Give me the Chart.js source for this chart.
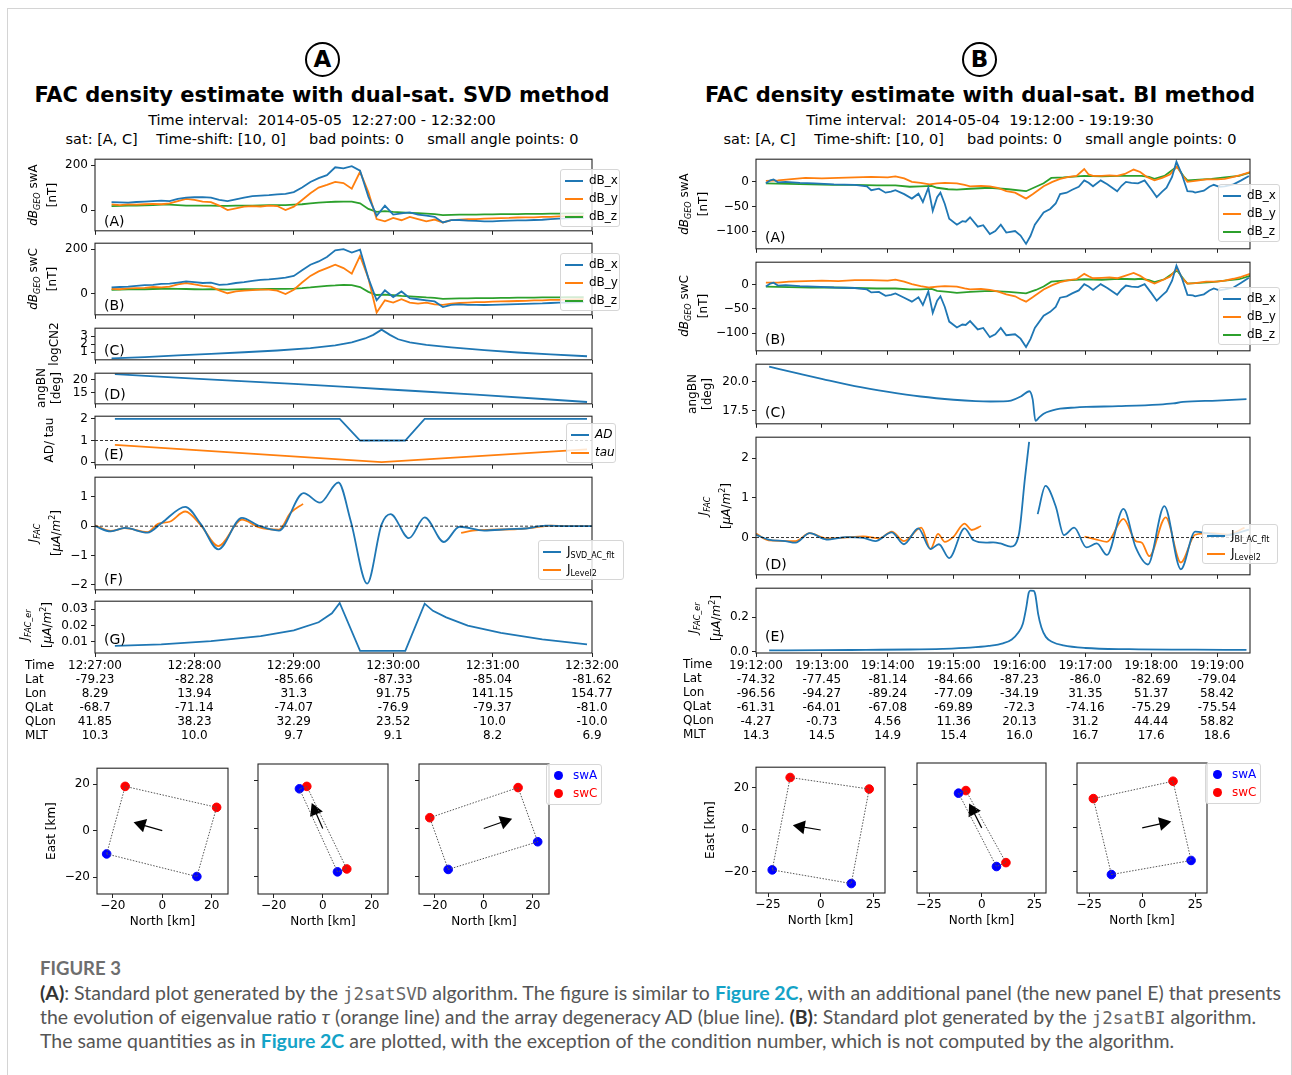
<!DOCTYPE html>
<html>
<head>
<meta charset="utf-8">
<script src="https://cdn.jsdelivr.net/npm/chart.js@4.4.1/dist/chart.umd.min.js"></script>
<style>
  html, body { margin: 0; padding: 0; background: #fff; }
  body { position: relative; width: 1292px; height: 1075px; overflow: hidden; font-family: "DejaVu Sans", sans-serif; color: #000; }
  canvas { position: absolute; }
  .abs { position: absolute; white-space: nowrap; }
  .frame { position: absolute; left: 7px; top: 8px; width: 1283px; height: 1080px; border: 1px solid #d4d4d4; }
  .circ { position: absolute; width: 31px; height: 31px; border: 2.5px solid #000; border-radius: 50%; font: bold 23px "DejaVu Sans"; text-align: center; line-height: 31px; }
  .title { font: bold 21px "DejaVu Sans"; transform: translateX(-50%); }
  .sub { font-size: 14.5px; transform: translateX(-50%); }
  .yl { position: absolute; transform: translate(-50%, -50%) rotate(-90deg); white-space: nowrap; font-size: 12px; line-height: 15px; text-align: center; }
  .yl sub { font-size: 8px; }
  .pl { font-size: 14px; }
  .lg { position: absolute; background: rgba(255,255,255,0.8); border: 1px solid #d6d6d6; border-radius: 3px; font-size: 12px; padding: 1px 4px; }
  .lg div { height: 18px; line-height: 18px; white-space: nowrap; }
  .lg sub { font-size: 8px; }
  .sw { display: inline-block; width: 18px; height: 2px; vertical-align: middle; margin-right: 6px; }
  .dot { display: inline-block; width: 9px; height: 9px; border-radius: 50%; vertical-align: middle; margin: 0 10px 0 3px; }
  .rows { font-size: 12px; line-height: 14px; }
  .cap { position: absolute; white-space: nowrap; font-family: Lato, "Open Sans", sans-serif; color: #555; font-size: 19.5px; }
  .cap b { color: #333; }
  .cap .lk { color: #14a3c7; font-weight: bold; }
  .cap code { font-family: "DejaVu Sans Mono", monospace; font-size: 17.5px; color: #666; }
</style>
</head>
<body>
<div class="frame"></div>
<script>
// ---------- panel A : SVD method, seconds after 12:27:00 ----------
const tA = [10,15,20,25,30,35,40,45,50,55,60,65,70,75,80,85,90,95,100,105,110,115,120,125,130,135,140,145,150,155,160,165,170,175,180,185,190,195,200,205,210,215,220,225,230,235,240,245,250,255,260,265,270,275,280,285,290,295];
const dbxSwA = [35,34,33,36,38,40,42,40,50,55,57,58,55,45,40,48,55,62,64,66,70,72,80,100,125,142,155,190,185,195,175,60,-25,20,-20,-15,-10,-20,-25,-30,-55,-45,-44,-47,-48,-50,-50,-48,-47,-46,-46,-44,-43,-40,-38,-37,-35,-34];
const dbySwA = [25,22,25,24,26,28,26,30,40,50,45,38,35,20,0,8,15,18,16,20,18,0,15,45,75,100,112,125,120,95,170,80,-40,-50,-35,-45,-30,-40,-50,-42,-55,-45,-42,-40,-40,-38,-37,-36,-35,-33,-32,-32,-30,-30,-28,-27,-27,-26];
const dbzSwA = [18,19,20,20,21,22,24,24,22,20,20,20,20,19,19,20,20,20,21,22,22,22,24,26,30,33,35,37,38,38,30,5,-8,-5,-8,-10,-12,-14,-16,-18,-22,-21,-20,-20,-20,-19,-19,-18,-18,-18,-17,-17,-17,-16,-16,-15,-15,-15];
const dbxSwC = [28,30,32,35,38,40,44,45,50,55,52,48,50,40,42,48,52,58,62,64,68,72,80,105,130,145,165,195,200,185,198,70,-30,15,-15,10,-20,-25,-30,-35,-60,-50,-48,-50,-50,-51,-50,-49,-48,-47,-46,-45,-44,-42,-40,-40,-39,-38];
const dbySwC = [22,20,24,25,26,30,28,32,42,48,42,35,32,15,2,10,14,16,18,18,14,-2,18,50,80,100,115,130,115,90,170,70,-85,-30,-40,-25,-40,-45,-40,-48,-50,-45,-42,-40,-38,-38,-36,-35,-34,-33,-32,-30,-30,-28,-28,-27,-26,-25];
const dbzSwC = [17,18,19,20,20,21,22,23,22,21,20,19,20,19,18,19,20,20,20,21,22,22,23,25,28,32,35,37,40,38,30,8,-6,-4,-7,-10,-12,-14,-17,-19,-23,-22,-21,-21,-20,-20,-20,-19,-19,-18,-18,-18,-17,-17,-17,-16,-16,-16];
const cnT = [10,30,50,70,90,110,130,145,155,163,168,173,178,183,190,200,215,235,255,275,297];
const cnV = [0.22,0.38,0.58,0.78,0.98,1.2,1.5,1.85,2.2,2.7,3.15,3.8,3.15,2.6,2.2,1.9,1.6,1.25,0.95,0.72,0.48];
const angAT = [12,60,120,175,230,297];
const angAV = [22.2,20.5,18.4,16.3,14.2,11.3];
const adT = [12,147.7,160,187.3,199,297];
const adV = [2,2,1,1,2,2];
const tauT = [12,173,297];
const tauV = [0.8,0.0,0.59];
const jSvdT = [0,9.5,18,31.7,40.4,54.5,64,74.4,88.7,98.6,111,125.9,135.8,146.9,154.4,164.3,173,178.4,189.5,199,210.6,220,234.9,250,260,272,285,300];
const jSvdV = [0.0,-0.18,-0.06,-0.22,0.12,0.66,0.06,-0.79,0.28,0.02,-0.15,1.13,0.8,1.49,0.17,-1.96,0.06,0.41,-0.41,0.3,-0.54,-0.02,-0.15,-0.1,-0.08,0.02,0.0,0.0];
const jL2AT = [0,9.5,18,31.7,38,45,54.5,64,74.4,88.7,98.6,111,118,125.6,170,221,228,240,255,265,275,290,300];
const jL2AV = [0.03,-0.16,-0.07,-0.2,0.08,0.15,0.5,0.02,-0.68,0.22,-0.03,-0.12,0.45,0.76,null,-0.23,-0.15,-0.12,-0.1,-0.05,0.02,0.0,0.0];
const erAT = [12,40,70,100,120,135,143,147.7,160,187.3,199,204,212,225,245,270,297];
const erAV = [0.0075,0.0085,0.0105,0.0135,0.017,0.022,0.0275,0.0338,0.0045,0.0045,0.0334,0.029,0.025,0.02,0.0155,0.0115,0.0085];
const ticksA = [0,60,120,180,240,300];
const timeA = ['12:27:00','12:28:00','12:29:00','12:30:00','12:31:00','12:32:00'];
const latA = ['-79.23','-82.28','-85.66','-87.33','-85.04','-81.62'];
const lonA = ['8.29','13.94','31.3','91.75','141.15','154.77'];
const qlatA = ['-68.7','-71.14','-74.07','-76.9','-79.37','-81.0'];
const qlonA = ['41.85','38.23','32.29','23.52','10.0','-10.0'];
const mltA = ['10.3','10.0','9.7','9.1','8.2','6.9'];

// ---------- panel B : BI method, seconds after 19:12:00 ----------
const bxAT = [9,13,16,20,27,40,53,71,90,101,105,112,118,123,127,135,142,148,152,157,161,165,168,172,176,183,188,191,195,202,207,213,218,223,228,236,241,246,250,254,262,268,273,277,283,288,294,299,303,307,314,320,329,333,337,342,348,354,360,365,370,374,379,383,388,393,398,400,408,413,417,422,427,435,442,449];
const bxAV = [-3,3,5,-1,0,-2,-3,-5,-6,-9,-17,-14,-22,-20,-17,-25,-34,-24,-41,-12,-59,-31,-22,-45,-75,-87,-80,-81,-72,-91,-88,-106,-100,-87,-103,-100,-109,-126,-110,-87,-62,-55,-44,-25,-22,-16,-10,3,-2,-9,3,-5,-19,-8,0,-2,-3,3,-15,-31,-20,-12,10,41,15,-19,-20,-22,-18,-10,-6,-10,-9,-5,3,12];
const bxCV = [-4,2,4,-2,-1,-3,-4,-6,-7,-10,-16,-15,-23,-21,-18,-27,-35,-26,-42,-14,-58,-33,-24,-46,-76,-88,-82,-83,-75,-92,-89,-108,-102,-89,-104,-102,-111,-128,-112,-89,-64,-56,-46,-27,-24,-18,-12,1,-4,-11,1,-7,-21,-10,-2,-4,-5,1,-17,-33,-22,-14,8,39,13,-21,-22,-24,-20,-12,-8,-12,-10,-6,4,14];
const byBT = [9,20,30,45,60,75,90,105,120,127,135,142,150,158,165,172,183,190,195,205,213,220,228,236,241,246,252,262,270,277,285,292,299,303,307,315,322,329,336,344,350,356,363,370,377,383.5,388,393,400,410,420,427,435,442,450];
const byAV = [2,3,5,8,7,8,9,10,9,11,7,0,-2,-5,-3,-2,-3,-6,-9,-8,-9,-12,-19,-22,-28,-34,-25,-9,0,6,10,12,26,15,12,12,13,12,16,25,20,10,3,8,15,31,15,0,2,5,5,6,10,14,20];
const byCV = [4,4,6,7,8,7,9,9,8,10,6,1,-3,-6,-4,-3,-4,-8,-10,-9,-11,-14,-20,-24,-30,-35,-26,-10,-1,5,9,11,22,17,13,14,15,13,18,24,18,9,2,9,16,33,14,2,3,6,6,8,12,16,22];
const bzBT = [9,30,50,70,90,110,127,140,150,160,165,175,183,195,213,230,246,255,262,269,280,299,315,330,345,351,358,363,372,383.5,390,393,400,415,427,440,450];
const bzAV = [-3,-4,-5,-6,-6,-7,-7,-10,-9,-8,-12,-15,-16,-14,-12,-15,-19,-10,-3,8,9,12,11,12,12,12,10,6,12,31,10,3,4,6,9,12,19];
const bzCV = [-4,-5,-6,-6,-7,-8,-8,-10,-10,-9,-13,-15,-17,-15,-13,-15,-18,-11,-4,6,8,11,10,12,11,12,9,5,11,29,10,2,3,5,8,11,18];
const angBT = [12,40,60.8,90,120.5,150,180,200,213.7,225,232.3,241.6,249,252,254.6,258,262,270,277,290,300.9,330,366.6,380,389,420,446.8];
const angBV = [21.27,20.65,20.2,19.6,19.1,18.7,18.42,18.3,18.27,18.28,18.35,18.72,19.15,18.47,16.6,16.9,17.22,17.5,17.65,17.75,17.8,17.87,18.0,18.1,18.23,18.35,18.47];
const jBiT = [0,11.5,26.6,36,49,64,82.6,97.6,108.7,123.6,134.8,147.9,159,166.6,176,190,198.3,209.5,216,222.6,232,239.4,245,248.8,252,256.6,263.7,273,280.5,289.8,301,310.4,319.7,334.7,345.9,357,372,387,400,411,426,449];
const jBiV = [0.07,-0.05,-0.09,-0.13,0.11,-0.05,0.01,-0.01,-0.09,0.13,-0.17,0.23,-0.29,-0.17,-0.52,0.23,-0.07,-0.13,-0.12,-0.15,-0.23,0.07,1.5,2.41,null,0.59,1.3,0.79,0.06,0.25,-0.25,-0.15,-0.44,0.72,-0.25,-0.68,0.79,-0.8,0.15,0.11,0.05,0.2];
const jL2BT = [0,11.5,36,49,64,80,97.6,112.5,123.6,134.8,150.5,159,165.8,172,179.5,190,196.4,205,250,299.3,310.4,319.7,334.7,345.9,351.5,358.3,373.2,387,400,415,430,445];
const jL2BV = [0.1,-0.07,-0.09,0.11,-0.02,0.0,0.03,-0.02,0.15,-0.09,0.25,-0.29,0.09,-0.11,0.01,0.35,0.19,0.29,null,0.02,-0.05,-0.11,0.47,-0.09,-0.13,-0.47,0.51,-0.63,0.07,0.11,0.07,0.25];
const erBT = [12,60,100,140,170,195,212,225,233,239,243,246,248.5,250,253,254.5,257,260,264,270,280,300,340,400,446.8];
const erBV = [0.006,0.007,0.009,0.011,0.015,0.022,0.032,0.047,0.07,0.11,0.16,0.25,0.345,0.356,0.354,0.33,0.22,0.14,0.085,0.055,0.035,0.02,0.013,0.01,0.009];
const ticksB = [0,60,120,180,240,300,360,420];
const timeB = ['19:12:00','19:13:00','19:14:00','19:15:00','19:16:00','19:17:00','19:18:00','19:19:00'];
const latB = ['-74.32','-77.45','-81.14','-84.66','-87.23','-86.0','-82.69','-79.04'];
const lonB = ['-96.56','-94.27','-89.24','-77.09','-34.19','31.35','51.37','58.42'];
const qlatB = ['-61.31','-64.01','-67.08','-69.89','-72.3','-74.16','-75.29','-75.54'];
const qlonB = ['-4.27','-0.73','4.56','11.36','20.13','31.2','44.44','58.82'];
const mltB = ['14.3','14.5','14.9','15.4','16.0','16.7','17.6','18.6'];

// ---------- satellite constellation maps (North, East in km) ----------
const svdSwAN = [[-22.5,14],[-9.5,6],[-14.5,22]];
const svdSwAE = [[-10,-19.7],[16.5,-18],[-17,-5.5]];
const svdSwCN = [[-15,22],[-6.5,9.8],[-22,14]];
const svdSwCE = [[19,10],[17.5,-16.8],[4.5,17]];
const svdArrN = [-8.5,-3.2,8.5];
const svdArrE = [2.6,7.5,3.0];
const biSwAN = [[-23,14.5],[-11,7],[-14.5,23]];
const biSwAE = [[-19,-25.5],[16,-17.8],[-21.5,-15]];
const biSwCN = [[-14.5,23],[-7.5,11.5],[-23,14.5]];
const biSwCE = [[25,19.5],[17.2,-16],[13.5,21.5]];
const biArrN = [-9.5,-4.2,10];
const biArrE = [1.6,8,2.2];

const BLUE = '#1f77b4', ORANGE = '#ff7f0e', GREEN = '#2ca02c';

Chart.defaults.font.family = "'DejaVu Sans', sans-serif";
Chart.defaults.font.size = 12;
Chart.defaults.color = '#000';

// axes box like matplotlib spines
const framePlugin = {
  id: 'frame',
  afterDatasetsDraw(c) {
    const a = c.chartArea, ctx = c.ctx;
    ctx.save();
    ctx.strokeStyle = '#262626';
    ctx.lineWidth = 1.1;
    ctx.strokeRect(a.left, a.top, a.right - a.left, a.bottom - a.top);
    ctx.restore();
  }
};

function addCanvas(l, t, w, h) {
  const cv = document.createElement('canvas');
  cv.width = w; cv.height = h;
  cv.style.left = l + 'px'; cv.style.top = t + 'px';
  cv.style.width = w + 'px'; cv.style.height = h + 'px';
  document.body.appendChild(cv);
  return cv;
}

function addDiv(cls, l, t, html, css) {
  const d = document.createElement('div');
  d.className = cls;
  d.style.left = l + 'px'; d.style.top = t + 'px';
  if (css) d.style.cssText += css;
  d.innerHTML = html;
  document.body.appendChild(d);
  return d;
}

const pts = (xs, ys) => xs.map((x, i) => ({ x: x, y: ys[i] }));
const line = (xs, ys, color, more) => Object.assign({ data: pts(xs, ys), borderColor: color, borderWidth: 1.8, pointRadius: 0, fill: false, tension: 0 }, more || {});
const hline = (x0, x1, y) => ({ data: [{ x: x0, y: y }, { x: x1, y: y }], borderColor: '#000', borderWidth: 0.8, borderDash: [3, 2], pointRadius: 0 });
const mfmt = v => (v < 0 ? '\u2212' + Math.abs(v) : String(v));

function timePlot(box, xr, xTicks, yr, yTicks, yFmt, datasets, rows) {
  const padL = 62, padT = 6, padR = 36, padB = rows ? 96 : 6;
  const w = box[2] - box[0] + padL + padR, h = box[3] - box[1] + padT + padB;
  const cv = addCanvas(box[0] - padL, box[1] - padT, w, h);
  return new Chart(cv, {
    type: 'line',
    data: { datasets: datasets },
    options: {
      responsive: false, animation: false, devicePixelRatio: 1, events: [],
      layout: { autoPadding: false, padding: { left: 0, top: padT, right: padR, bottom: 0 } },
      plugins: { legend: { display: false }, tooltip: { enabled: false } },
      scales: {
        x: {
          type: 'linear', min: xr[0], max: xr[1],
          afterBuildTicks: s => { s.ticks = xTicks.map(v => ({ value: v })); },
          afterFit: s => { s.height = padB; },
          border: { display: false },
          grid: { drawOnChartArea: false, tickLength: 4, tickColor: '#222' },
          ticks: rows
            ? { autoSkip: false, maxRotation: 0, padding: 2, font: { size: 12, lineHeight: 1.17 }, callback: (v, i) => rows.map(r => r[i]) }
            : { display: false }
        },
        y: {
          min: yr[0], max: yr[1],
          afterBuildTicks: s => { s.ticks = yTicks.map(v => ({ value: v })); },
          afterFit: s => { s.width = padL; },
          border: { display: false },
          grid: { drawOnChartArea: false, tickLength: 4, tickColor: '#222' },
          ticks: { autoSkip: false, padding: 3, font: { size: 12 }, callback: yFmt }
        }
      }
    },
    plugins: [framePlugin]
  });
}

function mapPlot(box, xr, yr, xTicks, yTicks, first, aN, aE, cN, cE, arN, arE) {
  const padL = 52, padT = 6, padR = 6, padB = 36;
  const w = box[2] - box[0] + padL + padR, h = box[3] - box[1] + padT + padB;
  const cv = addCanvas(box[0] - padL, box[1] - padT, w, h);
  const ang = Math.atan2(arN, arE) * 180 / Math.PI;
  return new Chart(cv, {
    type: 'scatter',
    data: {
      datasets: [
        { data: pts([aN[0], aN[1], cN[1], cN[0], aN[0]], [aE[0], aE[1], cE[1], cE[0], aE[0]]), showLine: true, borderColor: '#555', borderWidth: 1, borderDash: [1.5, 1.5], pointRadius: 0 },
        { data: [{ x: 0, y: 0 }, { x: arN, y: arE }], showLine: true, borderColor: '#000', borderWidth: 1.2, backgroundColor: '#000', pointStyle: 'triangle', pointRadius: [0, 8], pointRotation: [0, ang], pointBorderWidth: 0 },
        { data: pts(aN, aE), backgroundColor: '#0000ff', borderColor: '#0000ff', pointRadius: 4.3 },
        { data: pts(cN, cE), backgroundColor: '#ff0000', borderColor: '#ff0000', pointRadius: 4.3 }
      ]
    },
    options: {
      responsive: false, animation: false, devicePixelRatio: 1, events: [],
      layout: { autoPadding: false, padding: { left: 0, top: padT, right: padR, bottom: 0 } },
      plugins: { legend: { display: false }, tooltip: { enabled: false } },
      scales: {
        x: {
          type: 'linear', min: xr[0], max: xr[1],
          afterBuildTicks: s => { s.ticks = xTicks.map(v => ({ value: v })); },
          afterFit: s => { s.height = padB; },
          border: { display: false },
          grid: { drawOnChartArea: false, tickLength: 4, tickColor: '#222' },
          ticks: { padding: 1, autoSkip: false, maxRotation: 0, callback: mfmt },
          title: { display: true, text: 'North [km]', padding: { top: 0, bottom: 1 }, font: { size: 12 } }
        },
        y: {
          min: yr[0], max: yr[1],
          afterBuildTicks: s => { s.ticks = yTicks.map(v => ({ value: v })); },
          afterFit: s => { s.width = padL; },
          border: { display: false },
          grid: { drawOnChartArea: false, tickLength: 4, tickColor: '#222' },
          ticks: { display: first, autoSkip: false, padding: 3, callback: mfmt },
          title: { display: first, text: 'East [km]', padding: { top: 0, bottom: 0 }, font: { size: 12 } }
        }
      }
    },
    plugins: [framePlugin]
  });
}

function legend(l, t, w, items) {
  const html = items.map(it => '<div><span class="sw" style="background:' + it[1] + '"></span>' + it[0] + '</div>').join('');
  addDiv('lg', l, t, html, 'width:' + w + 'px');
}
function dotLegend(l, t) {
  addDiv('lg', l, t, '<div style="color:#0000ff"><span class="dot" style="background:#0000ff"></span>swA</div><div style="color:#ff0000"><span class="dot" style="background:#ff0000"></span>swC</div>', 'width:46px;padding:1px 4px 2px 4px');
}

// ---------- headers ----------
addDiv('circ', 305, 42, 'A');
addDiv('circ', 962, 42, 'B');
addDiv('abs title', 322, 83, 'FAC density estimate with dual-sat. SVD method');
addDiv('abs title', 980, 83, 'FAC density estimate with dual-sat. BI method');
addDiv('abs sub', 322, 112, 'Time interval:&nbsp; 2014-05-05&nbsp; 12:27:00 - 12:32:00');
addDiv('abs sub', 322, 131, 'sat: [A, C]&nbsp;&nbsp;&nbsp; Time-shift: [10, 0]&nbsp;&nbsp;&nbsp;&nbsp; bad points: 0&nbsp;&nbsp;&nbsp;&nbsp; small angle points: 0');
addDiv('abs sub', 980, 112, 'Time interval:&nbsp; 2014-05-04&nbsp; 19:12:00 - 19:19:30');
addDiv('abs sub', 980, 131, 'sat: [A, C]&nbsp;&nbsp;&nbsp; Time-shift: [10, 0]&nbsp;&nbsp;&nbsp;&nbsp; bad points: 0&nbsp;&nbsp;&nbsp;&nbsp; small angle points: 0');

// ---------- panel A charts ----------
const xrA = [0, 300];
timePlot([95, 155, 592, 235], xrA, ticksA, [-92, 226], [0, 200], mfmt,
  [line(tA, dbxSwA, BLUE), line(tA, dbySwA, ORANGE), line(tA, dbzSwA, GREEN)]);
timePlot([95, 239, 592, 319], xrA, ticksA, [-95, 227], [0, 200], mfmt,
  [line(tA, dbxSwC, BLUE), line(tA, dbySwC, ORANGE), line(tA, dbzSwC, GREEN)]);
timePlot([95, 324, 592, 364], xrA, ticksA, [0.04, 3.98], [1, 2, 3], mfmt,
  [line(cnT, cnV, BLUE)]);
timePlot([95, 369, 592, 408], xrA, ticksA, [10.6, 22.6], [15, 20], mfmt,
  [line(angAT, angAV, BLUE, { cubicInterpolationMode: 'monotone' })]);
timePlot([95, 412, 592, 469], xrA, ticksA, [-0.12, 2.12], [0, 1, 2], mfmt,
  [hline(0, 300, 1), line(adT, adV, BLUE), line(tauT, tauV, ORANGE)]);
timePlot([95, 473, 592, 594], xrA, ticksA, [-2.17, 1.67], [-2, -1, 0, 1], mfmt,
  [hline(0, 300, 0), line(jSvdT, jSvdV, BLUE, { cubicInterpolationMode: 'monotone' }), line(jL2AT, jL2AV, ORANGE, { cubicInterpolationMode: 'monotone' })]);
timePlot([95, 597, 592, 653], xrA, ticksA, [0.0032, 0.0349], [0.01, 0.02, 0.03], v => v.toFixed(2),
  [line(erAT, erAV, BLUE)], [timeA, latA, lonA, qlatA, qlonA, mltA]);

// ---------- panel B charts ----------
const xrB = [0, 450];
timePlot([756, 155, 1250, 253], xrB, ticksB, [-136, 46], [-100, -50, 0], mfmt,
  [line(bxAT, bxAV, BLUE), line(byBT, byAV, ORANGE), line(bzBT, bzAV, GREEN)]);
timePlot([756, 258, 1250, 355], xrB, ticksB, [-136, 46], [-100, -50, 0], mfmt,
  [line(bxAT, bxCV, BLUE), line(byBT, byCV, ORANGE), line(bzBT, bzCV, GREEN)]);
timePlot([756, 360, 1250, 428], xrB, ticksB, [16.35, 21.48], [17.5, 20], v => v.toFixed(1),
  [line(angBT, angBV, BLUE, { cubicInterpolationMode: 'monotone' })]);
timePlot([756, 433, 1250, 579], xrB, ticksB, [-0.94, 2.53], [0, 1, 2], mfmt,
  [hline(0, 450, 0), line(jBiT, jBiV, BLUE, { cubicInterpolationMode: 'monotone' }), line(jL2BT, jL2BV, ORANGE, { cubicInterpolationMode: 'monotone' })]);
timePlot([756, 584, 1250, 653], xrB, ticksB, [-0.0094, 0.37], [0, 0.2], v => v.toFixed(1),
  [line(erBT, erBV, BLUE, { cubicInterpolationMode: 'monotone' })], [timeB, latB, lonB, qlatB, qlonB, mltB]);

// ---------- maps ----------
const boxesA = [[97, 764, 228, 894], [258, 764, 388, 894], [419, 764, 549, 894]];
const boxesB = [[756, 763, 885, 893], [917, 763, 1046, 893], [1077, 763, 1207, 893]];
boxesA.forEach((b, i) => mapPlot(b, [-26.4, 26.6], [-27.2, 26.8], [-20, 0, 20], [-20, 0, 20], i === 0,
  svdSwAN[i], svdSwAE[i], svdSwCN[i], svdSwCE[i], svdArrN[i], svdArrE[i]));
boxesB.forEach((b, i) => mapPlot(b, [-30.7, 30.5], [-30, 29.9], [-25, 0, 25], [-20, 0, 20], i === 0,
  biSwAN[i], biSwAE[i], biSwCN[i], biSwCE[i], biArrN[i], biArrE[i]));

// ---------- axis labels ----------
const dbl = s => '<i>dB</i><sub><i>GEO</i></sub> ' + s + '<br>[nT]';
const jl = s => '<i>J<sub>' + s + '</sub></i><br>[<i>\u03bcA</i>/<i>m</i><sup style="font-size:8px">2</sup>]';
addDiv('yl', 43, 195, dbl('swA'));
addDiv('yl', 43, 279, dbl('swC'));
addDiv('yl', 54, 344, 'logCN2');
addDiv('yl', 49, 388, 'angBN<br>[deg]');
addDiv('yl', 49, 440, 'AD/ tau');
addDiv('yl', 45, 533, jl('FAC'));
addDiv('yl', 36, 625, jl('FAC_er'));
addDiv('yl', 694, 204, dbl('swA'));
addDiv('yl', 694, 306, dbl('swC'));
addDiv('yl', 700, 394, 'angBN<br>[deg]');
addDiv('yl', 715, 506, jl('FAC'));
addDiv('yl', 705, 618, jl('FAC_er'));

// panel letters
[['(A)', 104, 213], ['(B)', 104, 297], ['(C)', 104, 342], ['(D)', 104, 386], ['(E)', 104, 446], ['(F)', 104, 571], ['(G)', 104, 631],
 ['(A)', 765, 229], ['(B)', 765, 331], ['(C)', 765, 404], ['(D)', 765, 556], ['(E)', 765, 628]]
  .forEach(p => addDiv('abs pl', p[1], p[2], p[0]));

// table row names
addDiv('abs rows', 25, 658, 'Time<br>Lat<br>Lon<br>QLat<br>QLon<br>MLT');
addDiv('abs rows', 683, 657, 'Time<br>Lat<br>Lon<br>QLat<br>QLon<br>MLT');

// ---------- legends ----------
const dbItems = [['dB_x', BLUE], ['dB_y', ORANGE], ['dB_z', GREEN]];
legend(560, 169, 50, dbItems);
legend(560, 253, 50, dbItems);
legend(566, 423, 40, [['<i>AD</i>', BLUE], ['<i>tau</i>', ORANGE]]);
legend(538, 540, 76, [['J<sub>SVD_AC_flt</sub>', BLUE], ['J<sub>Level2</sub>', ORANGE]]);
legend(1218, 184, 52, dbItems);
legend(1218, 287, 52, dbItems);
legend(1202, 524, 66, [['J<sub>BI_AC_flt</sub>', BLUE], ['J<sub>Level2</sub>', ORANGE]]);
dotLegend(546, 764);
dotLegend(1205, 763);

// ---------- caption ----------
addDiv('cap', 40, 957, 'FIGURE 3', 'color:#6e6e6e;font-weight:bold;font-size:18.5px');
addDiv('cap', 40, 981, '<b>(A)</b>: Standard plot generated by the <code>j2satSVD</code> algorithm. The figure is similar to <span class="lk">Figure 2C</span>, with an additional panel (the new panel E) that presents');
addDiv('cap', 40, 1005, 'the evolution of eigenvalue ratio <i>\u03c4</i> (orange line) and the array degeneracy AD (blue line). <b>(B)</b>: Standard plot generated by the <code>j2satBI</code> algorithm.');
addDiv('cap', 40, 1029, 'The same quantities as in <span class="lk">Figure 2C</span> are plotted, with the exception of the condition number, which is not computed by the algorithm.');
</script>
</body>
</html>
